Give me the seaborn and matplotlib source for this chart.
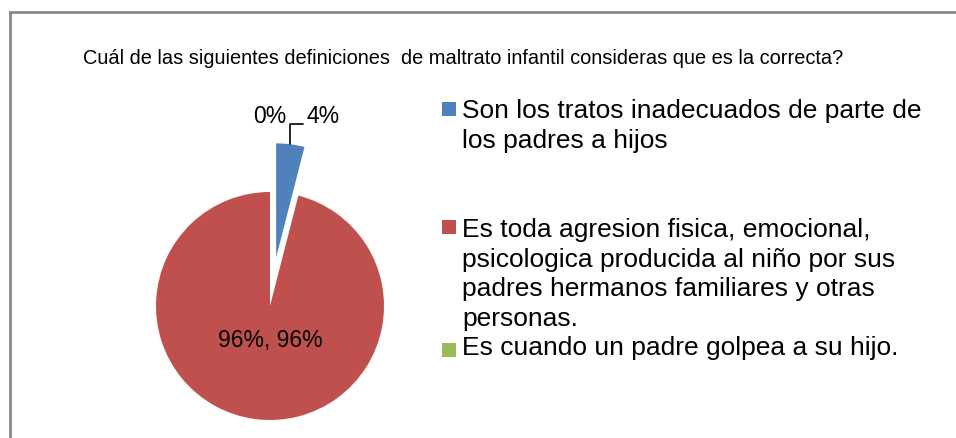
import numpy as np
import matplotlib
matplotlib.use("Agg")
import matplotlib.pyplot as plt
from matplotlib.patches import Rectangle
import seaborn as sns

sns.set_theme(style="white")
plt.rcParams['font.family'] = ['Liberation Sans', 'DejaVu Sans']
plt.rcParams['text.color'] = 'black'

# Data
categories = [
    "Son los tratos inadecuados de parte de\nlos padres a hijos",
    "Es toda agresion fisica, emocional,\npsicologica producida al niño por sus\npadres hermanos familiares y otras\npersonas.",
    "Es cuando un padre golpea a su hijo.",
]
values = [4, 96, 0]
slice_labels = ["4%", "96%, 96%", "0%"]
colors = ["#4F81BD", "#C0504D", "#9BBB59"]
explode = [0.43, 0, 0]
title = "Cuál de las siguientes definiciones  de maltrato infantil consideras que es la correcta?"

W, H = 956, 438
fig = plt.figure(figsize=(W / 100, H / 100), dpi=100)

# outer chart border (runs off the right and bottom of the image)
fig.patches.append(Rectangle((10 / W, -0.1), 1.1, (H - 12) / H + 0.1,
                             transform=fig.transFigure, fill=False,
                             edgecolor="#888888", linewidth=2))

fig.text(83 / W, 1 - 58 / H, title, fontsize=14.4, va="center", ha="left",
         family=['Liberation Sans Narrow', 'Liberation Sans', 'DejaVu Sans'])

# pie axes: centre (270, 306) px, radius 114 px
cx, cy, r = 270, 306, 114
ax = fig.add_axes([(cx - r) / W, (H - cy - r) / H, 2 * r / W, 2 * r / H])
wedges, _ = ax.pie(values, colors=colors, startangle=90, counterclock=False,
                   explode=explode, radius=1, wedgeprops=dict(linewidth=0))
ax.set_xlim(-1, 1)
ax.set_ylim(-1, 1)
ax.set_aspect("equal")
ax.axis("off")
for w in wedges:
    w.set_clip_on(False)

# blue slice label with leader line
wb = wedges[0]
mid = np.deg2rad((wb.theta1 + wb.theta2) / 2)
tip = (wb.center[0] + wb.r * np.cos(mid), wb.center[1] + wb.r * np.sin(mid))
ax.annotate(slice_labels[0], xy=tip, xytext=(0.32, 1.66), fontsize=16.5,
            ha="left", va="center", annotation_clip=False,
            arrowprops=dict(arrowstyle="-", color="black", lw=1.2,
                            connectionstyle="angle,angleA=0,angleB=90,rad=0",
                            shrinkA=0, shrinkB=0, relpos=(0, 0.2)))
ax.text(0, 1.66, slice_labels[2], fontsize=16.5, ha="center", va="center")
ax.text(0, -0.30, slice_labels[1], fontsize=16.5, ha="center", va="center")

# legend drawn manually to match spacing
leg_y = [109, 227, 350]
text_y = [99, 218, 336]
for cat, col, y, ty in zip(categories, colors, leg_y, text_y):
    fig.patches.append(Rectangle((442 / W, 1 - (y + 7) / H), 14 / W, 14 / H,
                                 transform=fig.transFigure, facecolor=col,
                                 edgecolor="none"))
    fig.text(462 / W, 1 - ty / H, cat, fontsize=19, va="top", ha="left",
             linespacing=1.3)

fig.savefig("out.png", dpi=100)
